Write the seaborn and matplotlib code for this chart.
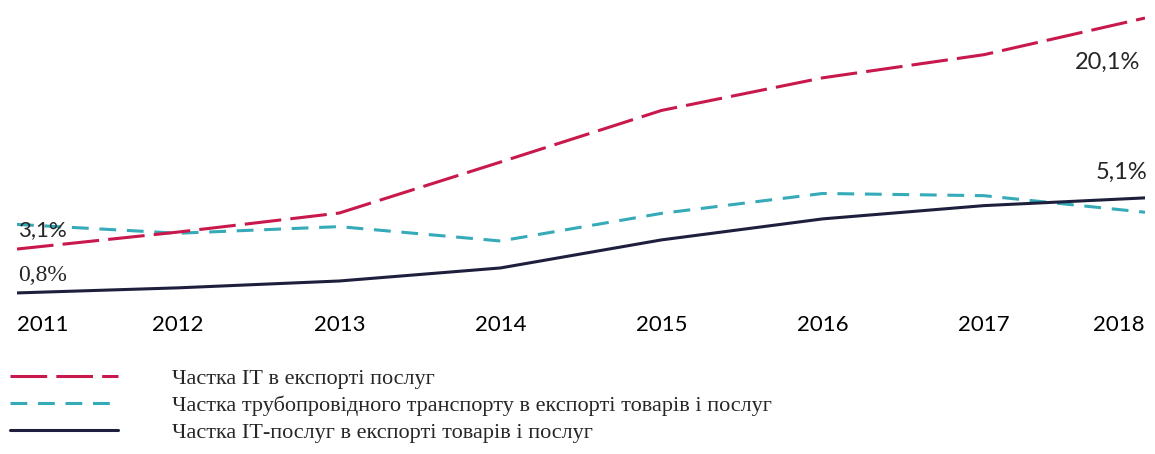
import matplotlib
matplotlib.use('Agg')
import matplotlib.pyplot as plt
import seaborn as sns
import pandas as pd

# Data (percent)
years = [2011, 2012, 2013, 2014, 2015, 2016, 2017, 2018]
it_in_services = [3.1, 4.35, 5.75, 9.5, 13.3, 15.7, 17.4, 20.1]        # red, own axis
pipeline_in_total = [3.9, 3.5, 3.8, 3.15, 4.4, 5.3, 5.2, 4.45]        # teal
it_in_total = [0.8, 1.03, 1.34, 1.93, 3.2, 4.15, 4.75, 5.1]            # dark

labels = ['Частка ІТ в експорті послуг',
          'Частка трубопровідного транспорту в експорті товарів і послуг',
          'Частка ІТ-послуг в експорті товарів і послуг']

red = '#C8184C'
teal = '#35AAB8'
navy = '#1E1F3D'

df = pd.DataFrame({'year': years, 'it_serv': it_in_services,
                   'pipe': pipeline_in_total, 'it_total': it_in_total})

sns.set_style('white')
plt.rcParams['font.family'] = ['Lato', 'DejaVu Sans']

fig = plt.figure(figsize=(11.55, 4.54), dpi=100)
ax = fig.add_axes([17 / 1155, 1 - 300 / 454, 1128 / 1155, 290 / 454])
ax2 = ax.twinx()

sns.lineplot(data=df, x='year', y='pipe', ax=ax, color=teal, linewidth=2.2,
             linestyle=(0, (5.5, 3.5)))
sns.lineplot(data=df, x='year', y='it_total', ax=ax, color=navy, linewidth=2.2)
sns.lineplot(data=df, x='year', y='it_serv', ax=ax2, color=red, linewidth=2.2,
             linestyle=(0, (12, 3)))

ax.set_xlim(2011, 2018)
ax.set_ylim(0.48, 13.6)
ax2.set_ylim(-0.65, 20.69)

for a in (ax, ax2):
    a.set_xlabel('')
    a.set_ylabel('')
    a.set_yticks([])
    for s in a.spines.values():
        s.set_visible(False)

ax.set_xticks(years)
ax.set_xticklabels([str(y) for y in years], fontsize=16, color='black')
ax.tick_params(axis='x', length=0, pad=11)
tl = ax.get_xticklabels()
tl[0].set_horizontalalignment('left')
tl[-1].set_horizontalalignment('right')

# value labels
ax2.annotate('3,1%', (years[0], it_in_services[0]), xytext=(1, 19),
             textcoords='offset pixels', fontsize=16, va='center', ha='left')
ax.annotate('0,8%', (years[0], it_in_total[0]), xytext=(1, 17),
            textcoords='offset pixels', fontsize=17, va='center', ha='left',
            family='Liberation Serif')
ax2.annotate('20,1%', (years[-1], it_in_services[-1]), xytext=(-5, -44),
             textcoords='offset pixels', fontsize=17, va='center', ha='right')
ax.annotate('5,1%', (years[-1], it_in_total[-1]), xytext=(2, 26),
            textcoords='offset pixels', fontsize=17, va='center', ha='right')

handles = [ax2.lines[0], ax.lines[0], ax.lines[1]]
fig.legend(handles, labels, loc='upper left', bbox_to_anchor=(10 / 1155, 1 - 368 / 454),
           frameon=False, borderpad=0, borderaxespad=0, handlelength=4.86,
           handletextpad=2.43, labelspacing=0.3,
           prop={'family': 'Liberation Serif', 'size': 16})

fig.savefig('out.png', dpi=100)
